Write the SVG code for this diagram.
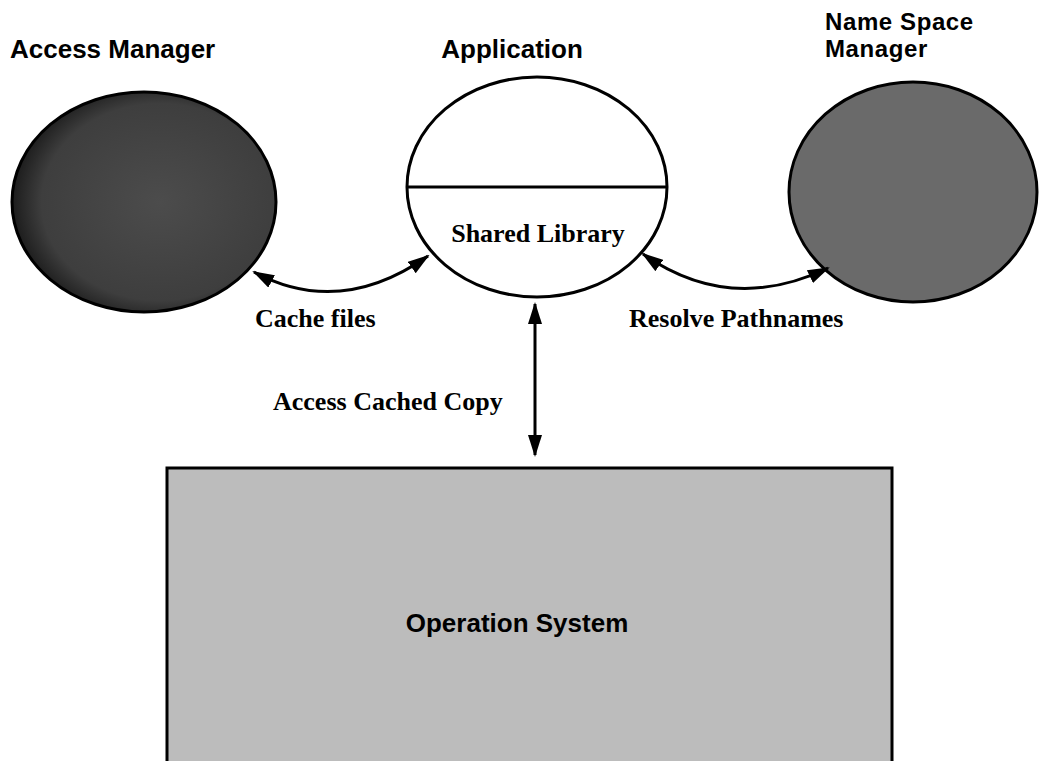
<svg xmlns="http://www.w3.org/2000/svg" width="1042" height="761" viewBox="0 0 1042 761">
  <style>
    .title { font-family: "Liberation Sans", Arial, sans-serif; font-weight: bold; font-size: 26px; fill: #000; }
    .title-sm { font-size: 24px; letter-spacing: 0.6px; }
    .label { font-family: "Liberation Serif", "Times New Roman", serif; font-weight: bold; font-size: 26px; fill: #000; }
    .outline { stroke: #000; stroke-width: 3; }
    .conn { fill: none; stroke: #000; stroke-width: 3; marker-start: url(#head); marker-end: url(#head); }
  </style>
  <defs>
    <marker id="head" viewBox="0 0 22 14" refX="20" refY="7" markerWidth="22" markerHeight="14" markerUnits="userSpaceOnUse" orient="auto-start-reverse">
      <path d="M0,0 L22,7 L0,14 Z" fill="#000"/>
    </marker>
    <radialGradient id="amFill" cx="0.56" cy="0.5" r="0.56">
      <stop offset="0" stop-color="#4c4c4c"/>
      <stop offset="0.8" stop-color="#3e3e3e"/>
      <stop offset="1" stop-color="#1c1c1c"/>
    </radialGradient>
  </defs>

  <rect width="1042" height="761" fill="#fff"/>

  <!-- Access Manager -->
  <g id="access-manager">
    <text class="title" x="10" y="58">Access Manager</text>
    <ellipse cx="144" cy="202" rx="132" ry="110" fill="url(#amFill)" class="outline"/>
  </g>

  <!-- Application with shared library -->
  <g id="application">
    <text class="title" x="512" y="58" text-anchor="middle">Application</text>
    <ellipse cx="537" cy="187" rx="130" ry="110" fill="#fff" class="outline"/>
    <line x1="408" y1="187" x2="666" y2="187" class="outline"/>
    <text class="label" x="538" y="242" text-anchor="middle">Shared Library</text>
  </g>

  <!-- Name Space Manager -->
  <g id="name-space-manager">
    <text class="title title-sm" x="825" y="30">Name Space</text>
    <text class="title title-sm" x="825" y="57">Manager</text>
    <ellipse cx="913" cy="192" rx="124" ry="110" fill="#6a6a6a" class="outline"/>
  </g>

  <!-- Operating system block -->
  <g id="operation-system">
    <rect x="167" y="468" width="725" height="300" fill="#bcbcbc" class="outline"/>
    <text class="title" x="517" y="632" text-anchor="middle">Operation System</text>
  </g>

  <!-- Connectors -->
  <g id="connectors">
    <path class="conn" d="M254,272 Q340,318 428,256"/>
    <path class="conn" d="M643,254 Q730,315 828,268"/>
    <line class="conn" x1="535" y1="304" x2="535" y2="455"/>
    <text class="label" x="255" y="327">Cache files</text>
    <text class="label" x="629" y="327">Resolve Pathnames</text>
    <text class="label" x="273" y="410">Access Cached Copy</text>
  </g>
</svg>
